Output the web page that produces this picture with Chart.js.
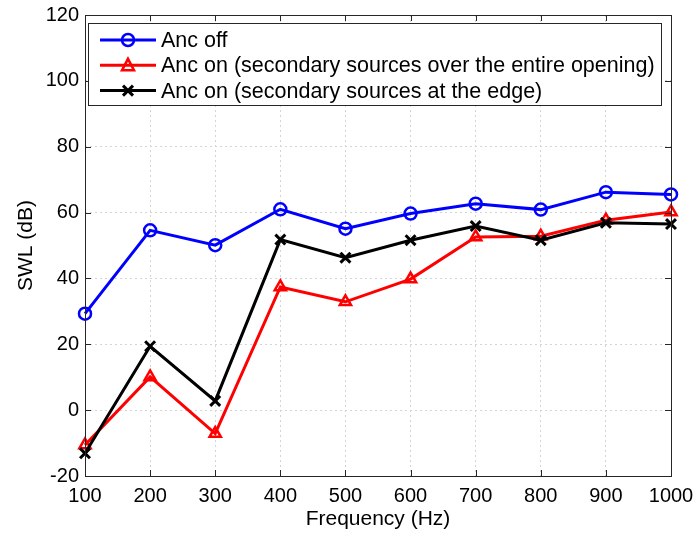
<!DOCTYPE html>
<html>
<head>
<meta charset="utf-8">
<script src="https://cdn.jsdelivr.net/npm/chart.js@4"></script>
<style>
html,body{margin:0;padding:0;background:#fff;}
#wrap{width:697px;height:534px;position:relative;}
</style>
</head>
<body>
<div id="wrap"><canvas id="c" width="697" height="534"></canvas></div>
<script>
const frequencies = [100, 200, 300, 400, 500, 600, 700, 800, 900, 1000];
const ancOff = [29.3, 54.6, 50.1, 61.0, 55.1, 59.7, 62.7, 60.9, 66.2, 65.5];
const ancOnEntire = [-10.6, 10.1, -7.1, 37.4, 32.9, 39.8, 52.6, 52.8, 57.7, 60.2];
const ancOnEdge = [-13.1, 19.4, 2.8, 51.8, 46.3, 51.6, 55.9, 51.6, 56.9, 56.5];
const seriesLabels = [
  'Anc off',
  'Anc on (secondary sources over the entire opening)',
  'Anc on (secondary sources at the edge)'
];
const yTicks = [-20, 0, 20, 40, 60, 80, 100, 120];
const xTicks = frequencies;

const FONT = "'Liberation Sans', Arial, sans-serif";

function pts(arr){ return arr.map((v,i)=>({x:frequencies[i], y:v})); }

function drawMarker(ctx, style, color, x, y){
  ctx.save();
  ctx.strokeStyle = color;
  ctx.lineWidth = 2.5;
  ctx.beginPath();
  if (style === 'circle') {
    ctx.arc(x, y, 6, 0, Math.PI*2);
  } else if (style === 'triangle') {
    ctx.moveTo(x, y-6.5); ctx.lineTo(x+6, y+5); ctx.lineTo(x-6, y+5); ctx.closePath();
  } else {
    ctx.lineWidth = 3;
    ctx.moveTo(x-5, y-5); ctx.lineTo(x+5, y+5);
    ctx.moveTo(x+5, y-5); ctx.lineTo(x-5, y+5);
  }
  ctx.stroke();
  ctx.restore();
}

const framePlugin = {
  id: 'frame',
  afterDraw(chart){
    const ctx = chart.ctx, a = chart.chartArea;
    const xs = chart.scales.x, ys = chart.scales.y;
    ctx.save();
    ctx.strokeStyle = '#262626';
    ctx.lineWidth = 1;
    ctx.strokeRect(Math.round(a.left)+0.5, Math.round(a.top)+0.5, Math.round(a.right-a.left), Math.round(a.bottom-a.top));
    ctx.beginPath();
    xTicks.forEach(v=>{
      const px = Math.round(xs.getPixelForValue(v))+0.5;
      ctx.moveTo(px, a.bottom); ctx.lineTo(px, a.bottom-6);
      ctx.moveTo(px, a.top); ctx.lineTo(px, a.top+6);
    });
    yTicks.forEach(v=>{
      const py = Math.round(ys.getPixelForValue(v))+0.5;
      ctx.moveTo(a.left, py); ctx.lineTo(a.left+6, py);
      ctx.moveTo(a.right, py); ctx.lineTo(a.right-6, py);
    });
    ctx.stroke();
    ctx.restore();

    // legend box
    const bx = 88.5, by = 23.5, bw = 573, bh = 82;
    ctx.save();
    ctx.fillStyle = '#fff';
    ctx.fillRect(bx, by, bw, bh);
    ctx.strokeStyle = '#262626';
    ctx.lineWidth = 1;
    ctx.strokeRect(bx, by, bw, bh);
    ctx.font = '21.5px ' + FONT;
    ctx.textBaseline = 'middle';
    chart.data.datasets.forEach((ds, i)=>{
      const ry = 40 + i*25.3;
      ctx.strokeStyle = ds.borderColor;
      ctx.lineWidth = 3;
      ctx.beginPath(); ctx.moveTo(100, ry); ctx.lineTo(156, ry); ctx.stroke();
      drawMarker(ctx, ds.markerKind, ds.borderColor, 128, ry);
      ctx.fillStyle = '#000';
      ctx.fillText(ds.label, 161, ry+1);
    });
    ctx.restore();
  }
};

const colors = ['#0000ff', '#ff0000', '#000000'];
const kinds = ['circle', 'triangle', 'crossRot'];
const values = [ancOff, ancOnEntire, ancOnEdge];

const datasets = values.map((arr, i)=>({
  label: seriesLabels[i],
  data: pts(arr),
  borderColor: colors[i],
  backgroundColor: 'rgba(0,0,0,0)',
  borderWidth: 3,
  pointStyle: kinds[i],
  pointRadius: kinds[i] === 'crossRot' ? 7 : (kinds[i]==='triangle' ? 6.5 : 6),
  pointBorderWidth: kinds[i] === 'crossRot' ? 3 : 2.5,
  pointBorderColor: colors[i],
  pointBackgroundColor: 'rgba(0,0,0,0)',
  pointHoverRadius: 6,
  tension: 0,
  clip: false,
  order: 3 - i,
  markerKind: kinds[i]
}));

new Chart(document.getElementById('c'), {
  type: 'line',
  data: { datasets },
  options: {
    responsive: false,
    animation: false,
    devicePixelRatio: 1,
    layout: { padding: { top: 15, right: 26, left: 0, bottom: 0 } },
    plugins: { legend: { display: false }, tooltip: { enabled: false } },
    scales: {
      x: {
        type: 'linear',
        min: 100, max: 1000,
        afterBuildTicks(scale){ scale.ticks = xTicks.map(v=>({value:v})); },
        afterFit(scale){ scale.height = 58; scale.paddingLeft = 0; scale.paddingRight = 0; },
        grid: { color: '#d4d4d4', drawTicks: false, lineWidth: 1 },
        border: { display: false, dash: [2, 3] },
        ticks: { color: '#000', font: { family: FONT, size: 20 }, padding: 8, maxRotation: 0, autoSkip: false,
                 callback: v => String(v) },
        title: { display: true, text: 'Frequency (Hz)', color: '#000', font: { family: FONT, size: 21 }, padding: { top: 0, bottom: 2 } }
      },
      y: {
        type: 'linear',
        min: -20, max: 120,
        afterBuildTicks(scale){ scale.ticks = yTicks.map(v=>({value:v})); },
        afterFit(scale){ scale.width = 85; scale.paddingTop = 0; scale.paddingBottom = 0; },
        grid: { color: '#d4d4d4', drawTicks: false, lineWidth: 1 },
        border: { display: false, dash: [2, 3] },
        ticks: { color: '#000', font: { family: FONT, size: 20 }, padding: 6, autoSkip: false,
                 callback: v => String(v) },
        title: { display: true, text: 'SWL (dB)', color: '#000', font: { family: FONT, size: 21 }, padding: { top: 14, bottom: 0 } }
      }
    }
  },
  plugins: [framePlugin]
});
</script>
</body>
</html>
